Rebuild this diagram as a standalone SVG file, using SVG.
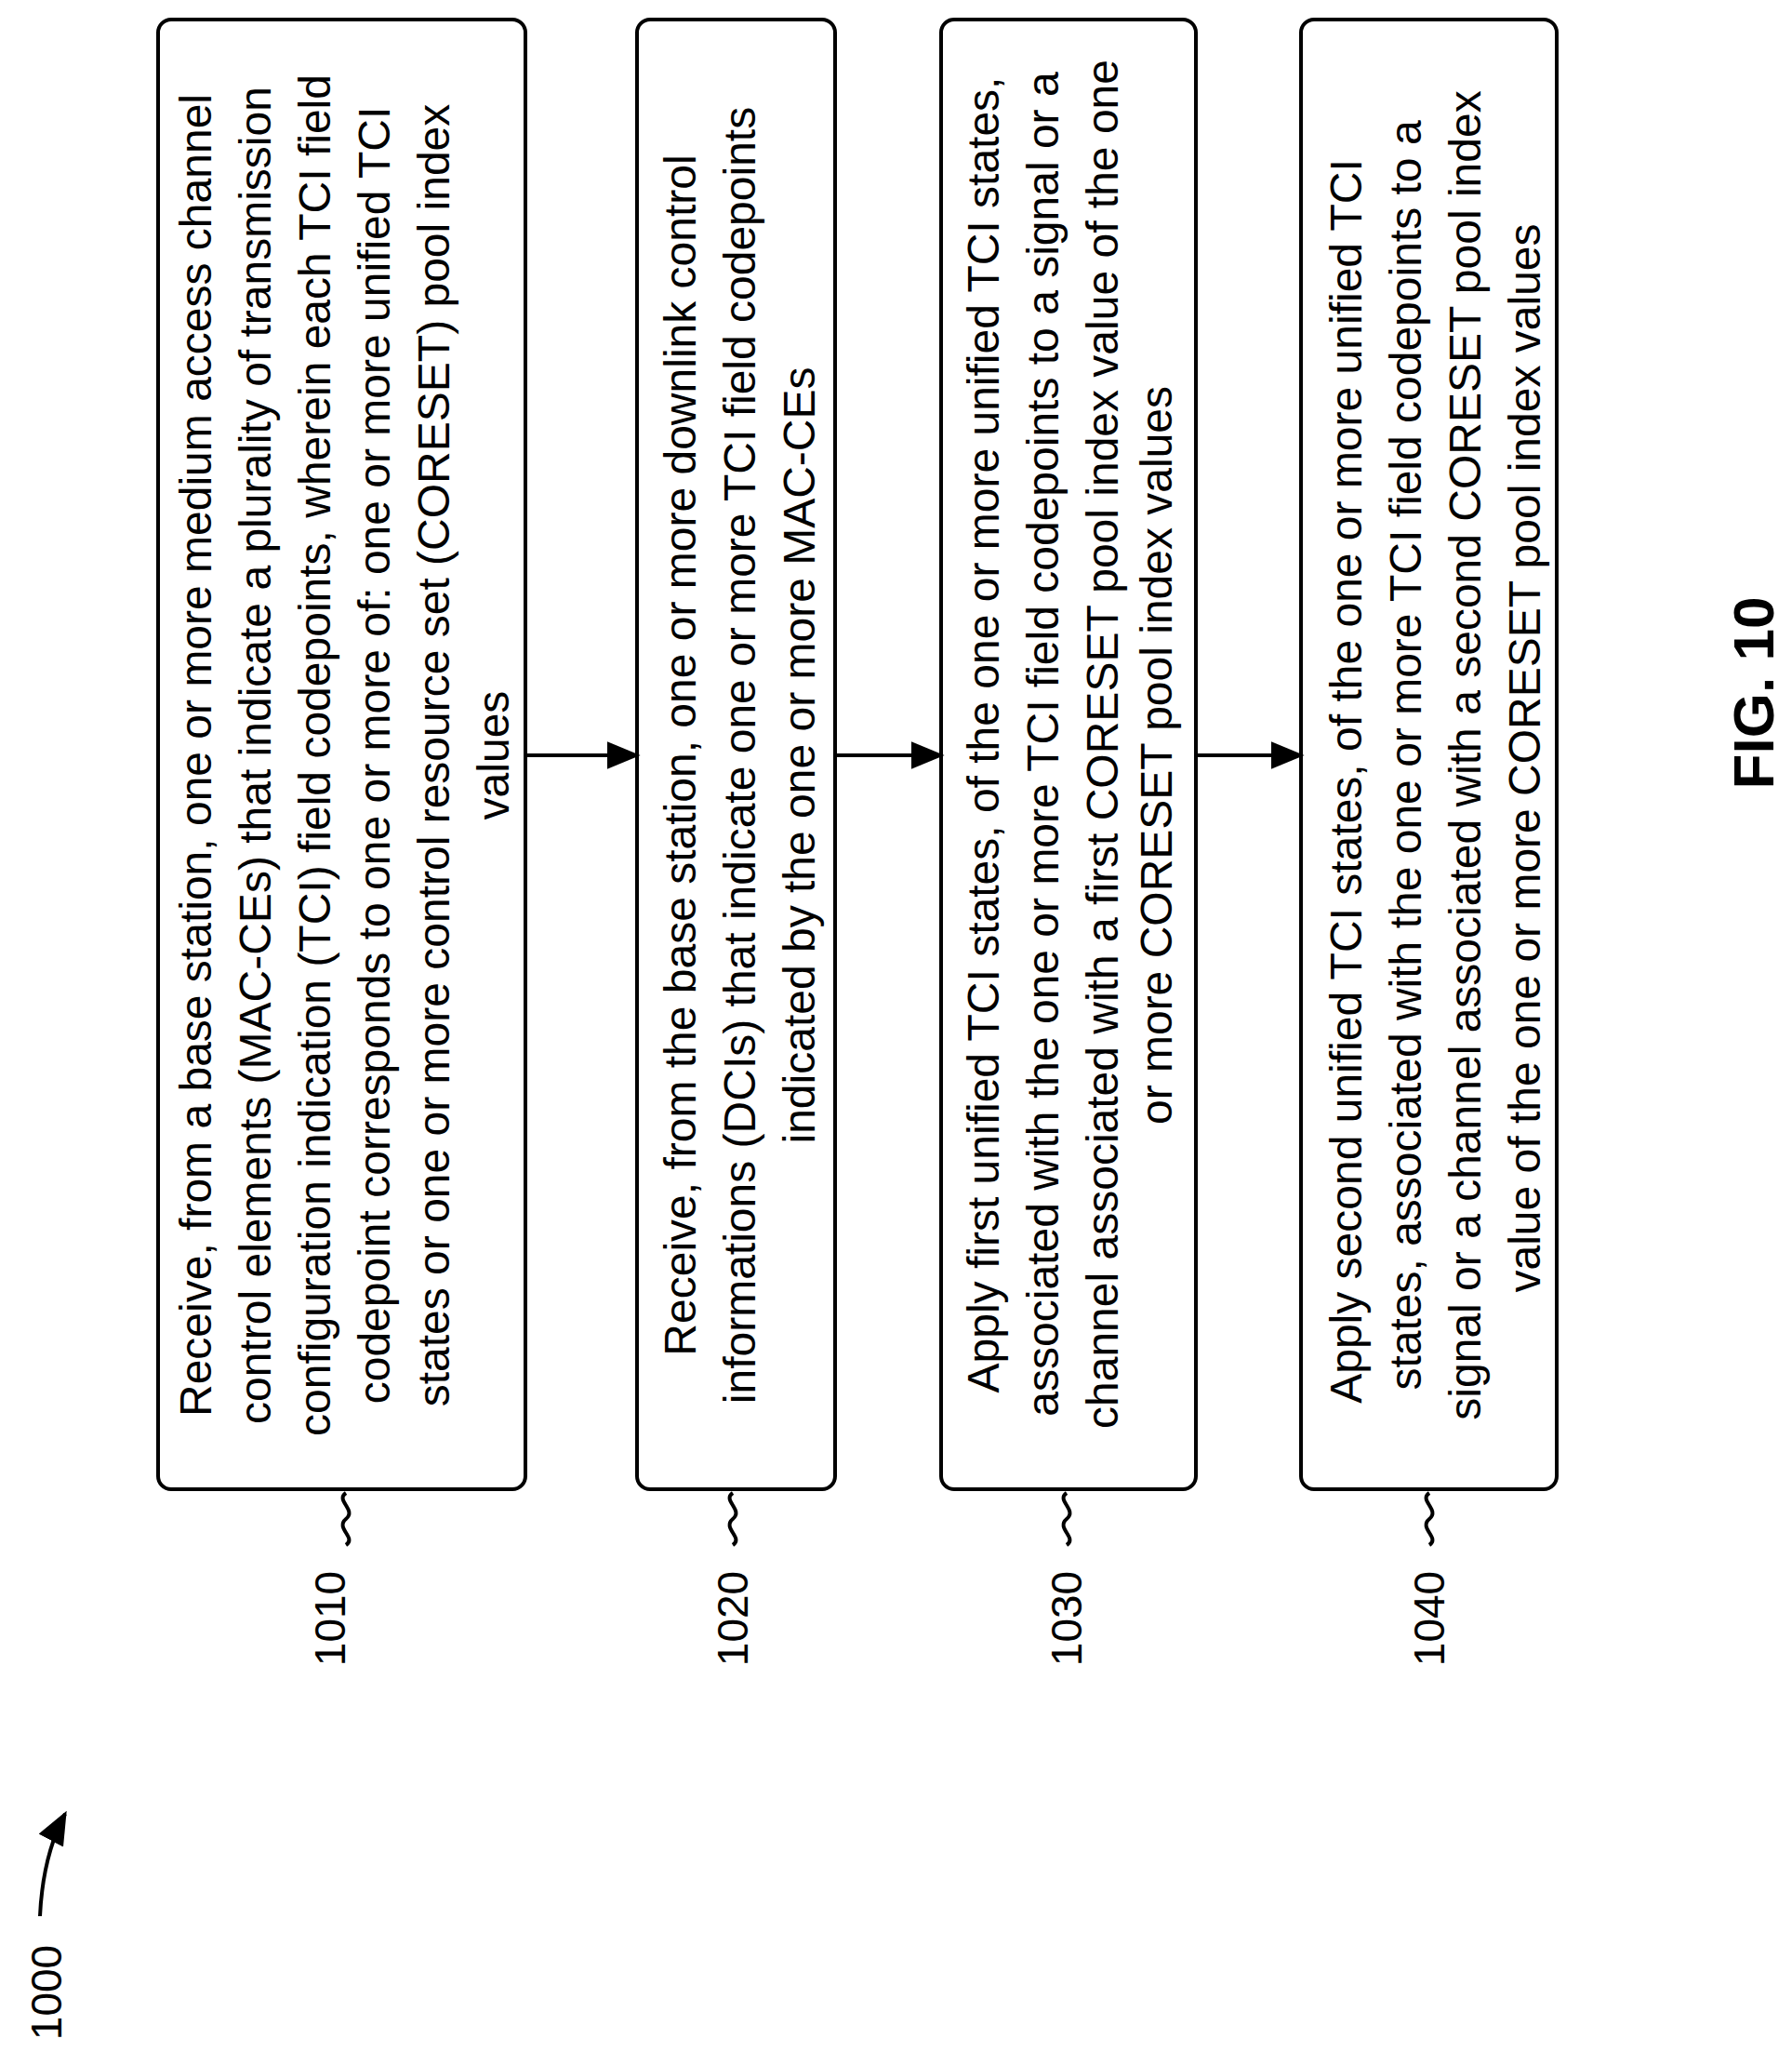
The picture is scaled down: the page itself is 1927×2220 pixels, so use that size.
<svg xmlns="http://www.w3.org/2000/svg" width="1927" height="2220" viewBox="0 0 1927 2220">
<defs>
<style>
.box{fill:#fff;stroke:#000;stroke-width:4}
.t{font-family:"Liberation Sans",Arial,sans-serif;font-size:48px;text-anchor:middle;fill:#000}
.lbl{font-family:"Liberation Sans",Arial,sans-serif;font-size:46px;text-anchor:middle;fill:#000}
.c{fill:none;stroke:#000;stroke-width:4}
</style>
<marker id="ah2" viewBox="0 0 10 10" markerWidth="36" markerHeight="30" refX="9" refY="5" orient="auto" markerUnits="userSpaceOnUse" preserveAspectRatio="none"><path d="M0,0 L10,5 L0,10 z"/></marker>
</defs>
<g id="n1010">
<rect class="box" x="170" y="21" width="395" height="1580" rx="14"/>
<g class="t">
<text transform="translate(227,812) rotate(-90)">Receive,  from a base station, one or more medium access channel</text>
<text transform="translate(291,812) rotate(-90)">control elements (MAC-CEs) that indicate a plurality of transmission</text>
<text transform="translate(355,812) rotate(-90)">configuration indication (TCI) field codepoints, wherein each TCI field</text>
<text transform="translate(419,812) rotate(-90)">codepoint corresponds to one or more of: one or more unified TCI</text>
<text transform="translate(483,812) rotate(-90)">states or one or more control resource set (CORESET) pool index</text>
<text transform="translate(547,812) rotate(-90)">values</text>
</g>
<path class="c" d="M372,1605 c-12,8 12,18 0,28 c-12,10 12,20 0,28"/>
<text class="lbl" transform="translate(371,1740) rotate(-90)">1010</text>
</g>
<g id="n1020">
<rect class="box" x="685" y="21" width="213" height="1580" rx="14"/>
<g class="t">
<text transform="translate(748,812) rotate(-90)">Receive,  from the base station, one or more downlink control</text>
<text transform="translate(812,812) rotate(-90)">informations (DCIs) that indicate one or more TCI field codepoints</text>
<text transform="translate(876,812) rotate(-90)">indicated by the one or more MAC-CEs</text>
</g>
<path class="c" d="M788,1605 c-12,8 12,18 0,28 c-12,10 12,20 0,28"/>
<text class="lbl" transform="translate(804,1740) rotate(-90)">1020</text>
</g>
<g id="n1030">
<rect class="box" x="1012" y="21" width="274" height="1580" rx="14"/>
<g class="t">
<text transform="translate(1074,790) rotate(-90)">Apply first unified TCI states, of the one or more unified TCI states,</text>
<text transform="translate(1138,800) rotate(-90)">associated with the one or more TCI field codepoints to a signal or a</text>
<text transform="translate(1202,800) rotate(-90)">channel associated with a first CORESET pool index value of the one</text>
<text transform="translate(1260,812) rotate(-90)">or more CORESET pool index values</text>
</g>
<path class="c" d="M1147,1605 c-12,8 12,18 0,28 c-12,10 12,20 0,28"/>
<text class="lbl" transform="translate(1163,1740) rotate(-90)">1030</text>
</g>
<g id="n1040">
<rect class="box" x="1399" y="21" width="275" height="1580" rx="14"/>
<g class="t">
<text transform="translate(1464,840) rotate(-90)">Apply second unified TCI states, of the one or more unified TCI</text>
<text transform="translate(1528,812) rotate(-90)">states, associated with the one or more TCI field codepoints to a</text>
<text transform="translate(1592,812) rotate(-90)">signal or a channel associated with a second CORESET pool index</text>
<text transform="translate(1656,815) rotate(-90)">value of the one or more CORESET pool index values</text>
</g>
<path class="c" d="M1537,1605 c-12,8 12,18 0,28 c-12,10 12,20 0,28"/>
<text class="lbl" transform="translate(1553,1740) rotate(-90)">1040</text>
</g>
<g id="connectors">
<line class="c" x1="565" y1="812" x2="685" y2="812" marker-end="url(#ah2)"/>
<line class="c" x1="898" y1="812" x2="1012" y2="812" marker-end="url(#ah2)"/>
<line class="c" x1="1286" y1="812" x2="1399" y2="812" marker-end="url(#ah2)"/>
<path class="c" d="M43,2060 Q46,1995 70,1950" marker-end="url(#ah2)"/>
</g>
<text class="lbl" transform="translate(66,2142) rotate(-90)">1000</text>
<text transform="translate(1907,745) rotate(-90)" style="font-family:'Liberation Sans',Arial,sans-serif;font-size:62px;font-weight:bold;text-anchor:middle">FIG. 10</text>
</svg>
